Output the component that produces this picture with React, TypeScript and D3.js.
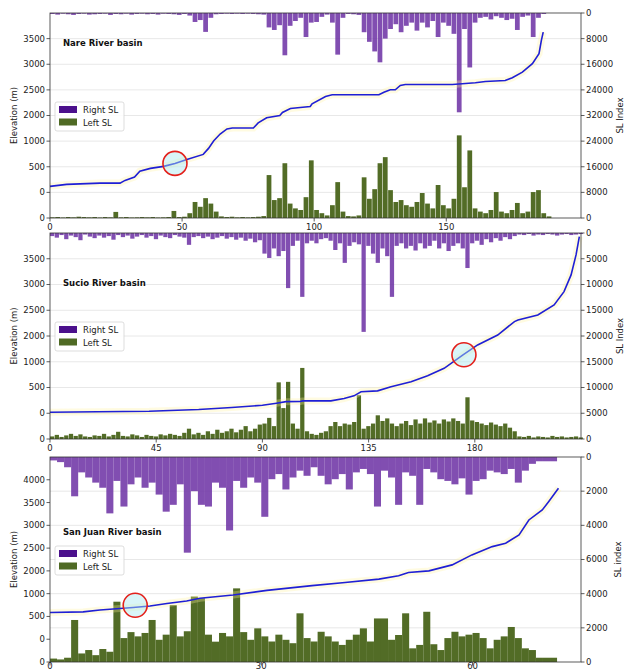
import { useEffect, useRef } from 'react';
import { line, scaleLinear, select } from 'd3';

// ---------- Nare River basin ----------
const nareDist = [
  0, 6.3, 19, 26.5, 28.4, 32, 34, 38, 43, 47.3, 51.8, 58, 60, 62, 64.4, 67, 69, 77, 78.8, 82,
  87, 88, 91, 94.7, 98.5, 99.2, 104.3, 106.8, 124.5, 126.4, 128.8, 130.7, 132.6, 134.5, 152.3,
  161, 164.8, 172.3, 175, 178.8, 182.6, 185.1, 186, 186.7,
];
const nareElev = [
  117, 156, 181, 181, 234, 298, 415, 468, 507, 565, 643, 741, 858, 1013, 1277, 1474, 1514, 1514,
  1712, 1910, 2000, 2059, 2137, 2156, 2176, 2229, 2371, 2404, 2404, 2455, 2502, 2502, 2586, 2605,
  2605, 2638, 2664, 2683, 2736, 2846, 3010, 3205, 3465, 3627,
];
// one bar every 2 km
const nareRightSL = [
  300, 500, 200, 400, 600, 300, 200, 500, 400, 300, 200, 600, 300, 400, 200, 500, 300, 200, 400,
  300, 500, 200, 300, 400, 600, 300,
  800, 2800, 2200, 5900, 1500, 400, 300, 200, 300, 200, 300, 200, 300, 400, 500,
  4500, 5300, 3800, 13200, 4000, 2500, 1500, 7500, 3000, 2800, 1200, 500, 3000, 13000, 1500, 300,
  400, 600,
  6000, 9000, 12000, 15400, 8000, 5000, 3500, 6000, 4000, 3000, 5500, 3000, 4500, 2500, 7500, 3000,
  4000, 6500, 31000, 5000, 17000, 3000,
  1500, 1200, 2000, 1000, 1500, 2200, 1800, 5300, 1200, 800, 7500, 1500, 300, 0,
];
const nareLeftSL = [
  200, 300, 150, 300, 200, 400, 300, 200, 300, 150, 300, 200, 1900, 200, 300, 150, 200, 300, 200,
  300, 150, 200, 300, 2200, 300, 400,
  1500, 5000, 3500, 6200, 4500, 2000, 500, 300, 400, 200, 300, 200, 300, 400, 600,
  13400, 5600, 6200, 17100, 4500, 3000, 2500, 6500, 18000, 2500, 1500, 800, 4000, 11200, 2000, 600,
  500, 800,
  12700, 6000, 9000, 17100, 19000, 8700, 5000, 5600, 4000, 3500, 5000, 7800, 4500, 3000, 10300,
  4000, 3000, 6000, 25800, 9600, 21100, 3000,
  2000, 1500, 2500, 8100, 2000, 1500, 2500, 4700, 1500, 2000, 8100, 8700, 1500, 500,
];

// ---------- Sucio River basin ----------
const sucioDist = [
  0, 20, 42, 63, 77, 90, 96, 100, 106, 107, 110.6, 119, 124.6, 128.8, 131.8, 138.8, 144.5, 153,
  160, 167, 175, 181.2, 189.7, 196.8, 198.3, 206.7, 213.6, 217.8, 220.8, 222.9, 224.3,
];
const sucioElev = [
  20, 30, 40, 72, 111, 156, 195, 225, 228, 240, 240, 240, 287, 338, 416, 435, 514, 611, 729, 873,
  1269, 1654, 2019, 2280, 2311, 2408, 2602, 2862, 3186, 3575, 3930,
];
const sucioRightSL = [
  600, 900, 400, 1200, 500, 800, 1400, 300, 700, 1000, 500, 900, 600, 1300, 400, 800, 500, 1100,
  700, 400, 900, 600, 1200, 500, 800, 1000, 400, 700, 900,
  2300, 800, 600, 1000, 700, 1200, 900, 600, 1100, 800, 1300, 900, 1500, 1100, 1800, 1400,
  4000, 4850, 3000, 4500, 3500, 10700, 2500, 1500, 12400, 2000, 1500, 2000, 1200, 1000, 1500, 3300,
  2000, 5800, 2500, 1800, 2200, 19200, 2500, 4000, 5800, 3000, 4500, 12400, 2500,
  2000, 3000, 2500, 3400, 2000, 3000, 2500, 1500, 3000, 2000, 3500, 2500, 2000, 3000, 6800, 2000,
  1500, 2300, 1200, 1800, 1000, 1500, 800, 1200, 600,
  300, 400, 200, 500, 300, 400, 200, 300, 500, 300, 200, 400, 300, 200,
];
const sucioLeftSL = [
  500, 800, 400, 700, 1000, 600, 900, 500, 400, 700, 600, 1000, 500, 800, 1400, 600, 500, 900, 700,
  400, 800, 600, 500, 900, 700, 1000, 800, 600, 1200,
  2000, 900, 1200, 800, 1500, 1000, 1800, 1200, 1500, 2000, 1300, 1800, 2500, 1500, 2000, 2800,
  3000, 4100, 2500, 11000, 6000, 11100, 3000, 2000, 13800, 1500, 1000, 800, 1200, 1500, 2500, 3300,
  2500, 3000, 2800, 3300, 8500, 2000, 2500, 3000, 4600, 3500, 4000, 3000, 2500,
  3000, 3500, 2700, 3800, 3000, 4000, 3200, 3600, 3000, 3800, 3400, 4000, 3500, 3000, 8100, 3600,
  3300, 3000, 2700, 3200, 2800, 2500, 3000, 2200, 1500,
  500, 400, 600, 300, 500, 400, 300, 600, 400, 500, 300, 400, 500, 300,
];

// ---------- San Juan River basin ----------
const sanJuanDist = [
  0, 4.7, 7.1, 11.8, 14.2, 16.6, 19.4, 21.3, 26, 30.8, 37.2, 41.9, 46.7, 49.5, 50.9, 53.8, 57.1,
  59.9, 62.8, 64.7, 66.6, 68, 69.9, 70.8, 72.2,
];
const sanJuanElev = [
  585, 600, 642, 695, 730, 783, 840, 899, 971, 1143, 1355, 1491, 1639, 1783, 1926, 2000, 2132, 2351,
  2533, 2607, 2789, 3118, 3338, 3520, 3813,
];
// one bar every 1 km
const sanJuanRightSL = [
  200, 300, 600, 2300, 900, 1200, 1500, 1800, 3300, 1400, 2900, 1600, 1200, 1800, 1500, 2200, 3200,
  2800, 1600, 5600, 2000, 2800, 2900, 1500, 1800, 4300, 1400, 1800, 1200, 1500, 3500, 1300, 1000,
  1900, 1200, 800, 1100, 600, 1100, 1600, 1300, 1000, 1900, 900, 700, 1000, 2900, 800, 1200, 2800,
  900, 1100, 2800, 700, 900, 1300, 1400, 1600, 1250, 2200, 1400, 1300, 800, 900, 1000, 700, 1500,
  800, 400, 250, 250, 250,
];
const sanJuanLeftSL = [
  200, 150, 250, 2460, 500, 700, 400, 760, 600, 3530, 1400, 1750, 1500, 1700, 2460, 1300, 1600,
  3330, 1500, 1800, 3830, 3740, 1600, 1190, 1700, 1500, 4310, 1750, 1300, 1970, 1500, 1200, 1600,
  1300, 1100, 2850, 1400, 1200, 1770, 1500, 1200, 1000, 1300, 1600, 1970, 1200, 2550, 2550, 1300,
  1580, 2850, 800, 1000, 2940, 1040, 700, 1400, 1770, 1500, 1600, 1700, 1400, 800, 1300, 1500, 2050,
  1400, 800, 700, 250, 250, 250,
];

// tick labels (bottom to top, as printed)
const elevLabels = ['0', '0', '500', '1000', '2000', '2500', '3000', '3500'];
const elevLabelsSanJuan = ['0', '0', '500', '1000', '2000', '2500', '3000', '3500', '4000'];
const nareSLLabels = ['0', '8000', '16000', '24000', '32000', '24000', '16000', '8000', '0'];
const sucioSLLabels = ['0', '5000', '10000', '15000', '20000', '15000', '10000', '5000', '0'];
const sanJuanSLLabels = ['0', '2000', '4000', '6000', '4000', '2000', '0'];
const nareXTicks = [0, 50, 100, 150];
const sucioXTicks = [0, 45, 90, 135, 180];
const sanJuanXTicks = [0, 30, 60];

const FONT = "'DejaVu Sans', sans-serif";
const PURPLE = '#6b2fa3';
const PURPLE_LEGEND = '#4b108c';
const GREEN = '#526c26';
const GREEN_LEGEND = '#4f6a24';
const BLUE = '#1f1fd6';
const LEFT = 50;
const RIGHT = 581;

const panels = [
  {
    title: 'Nare River basin', titleY: 46, top: 13, bottom: 218, xMax: 201, xTicks: nareXTicks,
    elevLabels, slLabels: nareSLLabels, slTitle: 'SL Index', slX: 623, fill: 0.9,
    dist: nareDist, elev: nareElev, step: 2, rightSL: nareRightSL, leftSL: nareLeftSL,
    mark: [47.3, 565],
  },
  {
    title: 'Sucio River basin', titleY: 286, top: 233, bottom: 439, xMax: 225, xTicks: sucioXTicks,
    elevLabels, slLabels: sucioSLLabels, slTitle: 'SL Index', slX: 623, fill: 0.9,
    dist: sucioDist, elev: sucioElev, step: 2, rightSL: sucioRightSL, leftSL: sucioLeftSL,
    mark: [175.4, 1270],
  },
  {
    title: 'San Juan River basin', titleY: 535, top: 457, bottom: 662, xMax: 75.4, xTicks: sanJuanXTicks,
    elevLabels: elevLabelsSanJuan, slLabels: sanJuanSLLabels, slTitle: 'SL index', slX: 621, fill: 1,
    dist: sanJuanDist, elev: sanJuanElev, step: 1, rightSL: sanJuanRightSL, leftSL: sanJuanLeftSL,
    mark: [12.1, 745],
  },
];

function drawPanel(svg: any, p: any) {
  const { top, bottom } = p;
  const h = bottom - top;
  const x = scaleLinear().domain([0, p.xMax]).range([LEFT, RIGHT]);

  // left axis: evenly spaced rows, top row unlabeled
  const leftRows = p.elevLabels.length;
  const rowL = (k: number) => bottom - (k * h) / leftRows;
  // right axis (twin): SL index, hanging bars on top, rising bars at bottom
  const rightRows = p.slLabels.length - 1;
  const rowR = (k: number) => bottom - (k * h) / rightRows;
  const mid = rowR(rightRows / 2);
  const slMax = Number(p.slLabels[rightRows / 2]);

  const y = scaleLinear()
    .domain([0, 1000, 2000, 2000 + (leftRows - 4) * 500])
    .range([rowL(1), rowL(3), rowL(4), top]);
  const yDown = scaleLinear().domain([0, slMax]).range([top, mid]);
  const yUp = scaleLinear().domain([0, slMax]).range([bottom, mid]);

  const g = svg.append('g');

  // grid
  for (let k = 1; k < rightRows; k++) {
    g.append('line')
      .attr('x1', LEFT).attr('x2', RIGHT)
      .attr('y1', rowR(k)).attr('y2', rowR(k))
      .attr('stroke', '#e2e2e2').attr('stroke-width', 0.8);
  }

  // bars
  const bw = (x(p.step) - x(0)) * p.fill;
  g.append('g')
    .selectAll('rect')
    .data(p.rightSL)
    .join('rect')
    .attr('x', (_: number, i: number) => x(i * p.step))
    .attr('y', top)
    .attr('width', bw)
    .attr('height', (d: number) => yDown(d) - top)
    .attr('fill', PURPLE)
    .attr('opacity', 0.85);
  g.append('g')
    .selectAll('rect')
    .data(p.leftSL)
    .join('rect')
    .attr('x', (_: number, i: number) => x(i * p.step))
    .attr('y', (d: number) => yUp(d))
    .attr('width', bw)
    .attr('height', (d: number) => bottom - yUp(d))
    .attr('fill', GREEN);

  // elevation profile
  const path = line<number>()
    .x((_, i) => x(p.dist[i]))
    .y((d) => y(d));
  g.append('path')
    .attr('d', path(p.elev))
    .attr('fill', 'none')
    .attr('stroke', '#fff29a')
    .attr('stroke-width', 7)
    .attr('opacity', 0.3);
  g.append('path')
    .attr('d', path(p.elev))
    .attr('fill', 'none')
    .attr('stroke', BLUE)
    .attr('stroke-width', 1.6);

  // highlighted point
  g.append('circle')
    .attr('cx', x(p.mark[0]))
    .attr('cy', y(p.mark[1]))
    .attr('r', 12)
    .attr('fill', 'rgba(170, 232, 240, 0.45)')
    .attr('stroke', '#e3201b')
    .attr('stroke-width', 1.6);

  // frame
  g.append('rect')
    .attr('x', LEFT).attr('y', top)
    .attr('width', RIGHT - LEFT).attr('height', h)
    .attr('fill', 'none').attr('stroke', '#333').attr('stroke-width', 0.8);

  // left ticks
  p.elevLabels.forEach((t: string, k: number) => {
    g.append('line')
      .attr('x1', LEFT - 3.5).attr('x2', LEFT)
      .attr('y1', rowL(k)).attr('y2', rowL(k))
      .attr('stroke', '#333').attr('stroke-width', 0.8);
    g.append('text')
      .attr('x', LEFT - 5).attr('y', rowL(k)).attr('dy', '0.35em')
      .attr('text-anchor', 'end').attr('font-size', 8.5).attr('fill', '#222')
      .text(t);
  });

  // right ticks
  p.slLabels.forEach((t: string, k: number) => {
    g.append('line')
      .attr('x1', RIGHT).attr('x2', RIGHT + 3.5)
      .attr('y1', rowR(k)).attr('y2', rowR(k))
      .attr('stroke', '#333').attr('stroke-width', 0.8);
    g.append('text')
      .attr('x', RIGHT + 5).attr('y', rowR(k)).attr('dy', '0.35em')
      .attr('text-anchor', 'start').attr('font-size', 8.5).attr('fill', '#222')
      .text(t);
  });

  // x ticks
  p.xTicks.forEach((t: number) => {
    g.append('line')
      .attr('x1', x(t)).attr('x2', x(t))
      .attr('y1', bottom).attr('y2', bottom + 3.5)
      .attr('stroke', '#333').attr('stroke-width', 0.8);
    g.append('text')
      .attr('x', x(t)).attr('y', Math.min(bottom + 11.5, 669))
      .attr('text-anchor', 'middle').attr('font-size', 8.5).attr('fill', '#222')
      .text(t);
  });

  // axis titles
  g.append('text')
    .attr('transform', `translate(17, ${(top + bottom) / 2}) rotate(-90)`)
    .attr('text-anchor', 'middle').attr('font-size', 8.5).attr('fill', '#222')
    .text('Elevation (m)');
  g.append('text')
    .attr('transform', `translate(${p.slX}, ${(top + bottom) / 2}) rotate(-90)`)
    .attr('text-anchor', 'middle').attr('font-size', 8.5).attr('fill', '#222')
    .text(p.slTitle);

  // basin name
  g.append('text')
    .attr('x', 63).attr('y', p.titleY)
    .attr('font-size', 8.5).attr('font-weight', 'bold').attr('fill', '#111')
    .text(p.title);

  // legend
  const ly = top + 89;
  const lg = g.append('g');
  lg.append('rect')
    .attr('x', LEFT + 5).attr('y', ly).attr('width', 69).attr('height', 29).attr('rx', 2)
    .attr('fill', 'white').attr('fill-opacity', 0.85)
    .attr('stroke', '#d4d4d4').attr('stroke-width', 0.8);
  [
    { label: 'Right SL', color: PURPLE_LEGEND },
    { label: 'Left SL', color: GREEN_LEGEND },
  ].forEach((it, i) => {
    lg.append('rect')
      .attr('x', LEFT + 9).attr('y', ly + 4 + i * 12.5).attr('width', 18).attr('height', 7)
      .attr('fill', it.color);
    lg.append('text')
      .attr('x', LEFT + 33).attr('y', ly + 11 + i * 12.5)
      .attr('font-size', 8.5).attr('fill', '#222')
      .text(it.label);
  });
}

export default function App() {
  const containerRef = useRef<HTMLDivElement>(null);

  useEffect(() => {
    const container = containerRef.current;
    if (!container) return;

    const div = select(container);
    div.select('svg').remove();

    const svg = div
      .append('svg')
      .attr('width', 624)
      .attr('height', 670)
      .style('display', 'block')
      .style('font-family', FONT);

    svg.append('rect').attr('width', 624).attr('height', 670).attr('fill', 'white');

    panels.forEach((p) => drawPanel(svg, p));

    return () => {
      div.select('svg').remove();
    };
  }, []);

  return <div ref={containerRef} style={{ position: 'absolute', left: 0, top: 0 }} />;
}
